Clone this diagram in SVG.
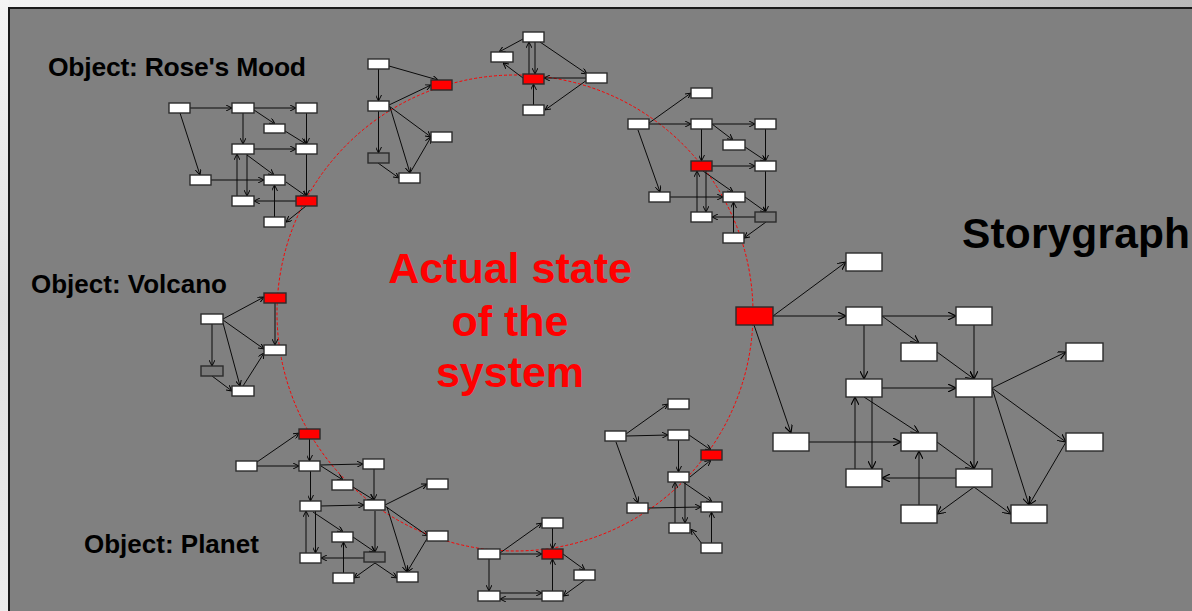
<svg xmlns="http://www.w3.org/2000/svg" width="1192" height="611" viewBox="0 0 1192 611">
  <defs>
    <linearGradient id="frame" x1="0" y1="0" x2="1" y2="0">
      <stop offset="0" stop-color="#f2f2f2"/>
      <stop offset="0.6" stop-color="#d9d9d9"/>
      <stop offset="1" stop-color="#b8b8b8"/>
    </linearGradient>
    <linearGradient id="side" x1="0" y1="0" x2="0" y2="1">
      <stop offset="0" stop-color="#f4f4f4"/>
      <stop offset="0.5" stop-color="#e0e0e0"/>
      <stop offset="1" stop-color="#ececec"/>
    </linearGradient>
    <marker id="ah" viewBox="0 0 10 10" refX="10" refY="5" markerWidth="6" markerHeight="6" markerUnits="userSpaceOnUse" orient="auto">
      <path d="M0,0 L10,5 L0,10" fill="none" stroke="#000" stroke-width="1.6"/>
    </marker>
    <marker id="ahl" viewBox="0 0 10 10" refX="10" refY="5" markerWidth="8" markerHeight="8" markerUnits="userSpaceOnUse" orient="auto">
      <path d="M0,0 L10,5 L0,10" fill="none" stroke="#000" stroke-width="1.4"/>
    </marker>
    <style>
      .n { fill: #ffffff; stroke: #2b2b2b; stroke-width: 1.4; }
      .r { fill: #ff0000; stroke: #2b2b2b; stroke-width: 1.4; }
      .g { fill: #787878; stroke: #2b2b2b; stroke-width: 1.4; }
      .e line { stroke: #0a0a0a; stroke-width: 1; marker-end: url(#ah); }
      .e.big line { marker-end: url(#ahl); }
      .lbl { font-family: "Liberation Sans", Arial, sans-serif; font-weight: bold; fill: #000; }
      .red { font-family: "Liberation Sans", Arial, sans-serif; font-weight: bold; fill: #ff0000; font-size: 43px; text-anchor: middle; }
    </style>
  </defs>

  <!-- frame and panel -->
  <rect x="0" y="0" width="1192" height="611" fill="url(#frame)"/>
  <rect x="0" y="0" width="9" height="611" fill="url(#side)"/>
  <rect x="9" y="8" width="1190" height="610" fill="#808080" stroke="#1a1a1a" stroke-width="2"/>

  <!-- system state ring -->
  <circle id="ring" cx="515" cy="313" r="238" fill="none" stroke="#ff0000" stroke-width="1" stroke-dasharray="3 2"/>

  <!-- labels -->
  <text class="lbl" x="48" y="76" font-size="26.5" textLength="258">Object: Rose's Mood</text>
  <text class="lbl" x="31" y="293" font-size="26">Object: Volcano</text>
  <text class="lbl" x="84" y="553" font-size="26">Object: Planet</text>
  <text class="lbl" x="962" y="248" font-size="42.5" textLength="228">Storygraph</text>
  <text class="red" x="510" y="283">Actual state</text>
  <text class="red" x="510" y="336">of the</text>
  <text class="red" x="510" y="387">system</text>

  <!-- connectors -->
  <g id="connectors">
    <g class="e" id="edges-rose">
      <line x1="190" y1="108" x2="232" y2="108"/>
      <line x1="254" y1="108" x2="296" y2="108"/>
      <line x1="254" y1="110" x2="275" y2="124"/>
      <line x1="285" y1="131" x2="306" y2="144"/>
      <line x1="306.5" y1="113" x2="306.5" y2="144"/>
      <line x1="243" y1="113" x2="243" y2="144"/>
      <line x1="254" y1="149" x2="296" y2="149"/>
      <line x1="180" y1="113" x2="200" y2="175"/>
      <line x1="211" y1="180" x2="264" y2="180"/>
      <line x1="247" y1="155" x2="274" y2="175"/>
      <line x1="237" y1="196" x2="237" y2="154"/>
      <line x1="247" y1="154" x2="247" y2="196"/>
      <line x1="286" y1="182" x2="306" y2="196"/>
      <line x1="306.5" y1="154" x2="306.5" y2="196"/>
      <line x1="296" y1="201" x2="254" y2="201"/>
      <line x1="306" y1="206" x2="286" y2="222"/>
      <line x1="274.5" y1="217" x2="274.5" y2="185"/>
    </g>
    <g class="e" id="edges-a">
      <line x1="389" y1="66" x2="438" y2="80"/>
      <line x1="378.5" y1="69" x2="378.5" y2="101"/>
      <line x1="389" y1="105" x2="431" y2="85"/>
      <line x1="389" y1="106" x2="431" y2="137"/>
      <line x1="390" y1="107" x2="410" y2="173"/>
      <line x1="378.5" y1="111" x2="378.5" y2="153"/>
      <line x1="378" y1="163" x2="399" y2="178"/>
      <line x1="410" y1="173" x2="431" y2="137"/>
    </g>
    <g class="e" id="edges-b">
      <line x1="523" y1="39" x2="499" y2="52"/>
      <line x1="523" y1="78" x2="503" y2="63"/>
      <line x1="535" y1="42" x2="535" y2="74"/>
      <line x1="529" y1="74" x2="529" y2="42"/>
      <line x1="540" y1="42" x2="587" y2="74"/>
      <line x1="586" y1="78" x2="544" y2="78"/>
      <line x1="587" y1="80" x2="545" y2="110"/>
      <line x1="533.5" y1="105" x2="533.5" y2="84"/>
    </g>
    <g class="e" id="edges-c">
      <line x1="649" y1="123" x2="691" y2="93"/>
      <line x1="649" y1="124" x2="691" y2="124"/>
      <line x1="712" y1="124" x2="755" y2="124"/>
      <line x1="712" y1="124" x2="733" y2="140"/>
      <line x1="745" y1="147" x2="766" y2="161"/>
      <line x1="765.5" y1="129" x2="765.5" y2="161"/>
      <line x1="701.5" y1="129" x2="701.5" y2="161"/>
      <line x1="712" y1="166" x2="755" y2="166"/>
      <line x1="638" y1="130" x2="660" y2="192"/>
      <line x1="670" y1="197" x2="723" y2="197"/>
      <line x1="703" y1="171" x2="733" y2="192"/>
      <line x1="706" y1="171" x2="706" y2="212"/>
      <line x1="697" y1="212" x2="697" y2="171"/>
      <line x1="745" y1="197" x2="766" y2="212"/>
      <line x1="765.5" y1="171" x2="765.5" y2="212"/>
      <line x1="755" y1="217" x2="712" y2="217"/>
      <line x1="766" y1="222" x2="744" y2="238"/>
      <line x1="733.5" y1="233" x2="733.5" y2="202"/>
    </g>
    <g class="e" id="edges-volcano">
      <line x1="223" y1="319" x2="264" y2="297"/>
      <line x1="223" y1="320" x2="264" y2="349"/>
      <line x1="212" y1="324" x2="212" y2="366"/>
      <line x1="223" y1="323" x2="240" y2="386"/>
      <line x1="275" y1="303" x2="275" y2="345"/>
      <line x1="212" y1="376" x2="232" y2="391"/>
      <line x1="243" y1="386" x2="264" y2="353"/>
    </g>
    <g class="e" id="edges-planet">
      <line x1="257" y1="462" x2="299" y2="433"/>
      <line x1="257" y1="466" x2="299" y2="466"/>
      <line x1="309.5" y1="439" x2="309.5" y2="461"/>
      <line x1="320" y1="465" x2="363" y2="464"/>
      <line x1="321" y1="466" x2="343" y2="480"/>
      <line x1="353" y1="487" x2="374" y2="500"/>
      <line x1="374" y1="469" x2="374" y2="500"/>
      <line x1="310.5" y1="471" x2="310.5" y2="501"/>
      <line x1="321" y1="506" x2="364" y2="505"/>
      <line x1="385" y1="505" x2="427" y2="484"/>
      <line x1="385" y1="506" x2="428" y2="536"/>
      <line x1="387" y1="507" x2="407" y2="572"/>
      <line x1="428" y1="537" x2="407" y2="572"/>
      <line x1="315.5" y1="511" x2="315.5" y2="553"/>
      <line x1="306" y1="553" x2="306" y2="511"/>
      <line x1="313" y1="512" x2="343" y2="532"/>
      <line x1="353" y1="537" x2="375" y2="552"/>
      <line x1="375" y1="511" x2="375" y2="552"/>
      <line x1="364" y1="558" x2="321" y2="558"/>
      <line x1="375" y1="563" x2="354" y2="578"/>
      <line x1="375" y1="563" x2="397" y2="578"/>
      <line x1="343.5" y1="573" x2="343.5" y2="542"/>
    </g>
    <g class="e" id="edges-d">
      <line x1="500" y1="553" x2="542" y2="523"/>
      <line x1="500" y1="554" x2="542" y2="554"/>
      <line x1="552.5" y1="528" x2="552.5" y2="549"/>
      <line x1="563" y1="554" x2="585" y2="570"/>
      <line x1="585" y1="580" x2="563" y2="596"/>
      <line x1="489" y1="559" x2="489" y2="591"/>
      <line x1="500" y1="593" x2="542" y2="593"/>
      <line x1="542" y1="599" x2="500" y2="599"/>
      <line x1="552.5" y1="591" x2="552.5" y2="559"/>
    </g>
    <g class="e" id="edges-e">
      <line x1="626" y1="434" x2="668" y2="404"/>
      <line x1="626" y1="436" x2="668" y2="435"/>
      <line x1="616" y1="442" x2="638" y2="503"/>
      <line x1="689" y1="435" x2="711" y2="450"/>
      <line x1="678.5" y1="440" x2="678.5" y2="472"/>
      <line x1="690" y1="477" x2="711" y2="460"/>
      <line x1="648" y1="508" x2="701" y2="507"/>
      <line x1="683" y1="482" x2="712" y2="502"/>
      <line x1="685" y1="482" x2="685" y2="523"/>
      <line x1="675" y1="523" x2="675" y2="482"/>
      <line x1="702" y1="544" x2="691" y2="529"/>
      <line x1="711.5" y1="543" x2="711.5" y2="512"/>
    </g>
    <g class="e big" id="edges-storygraph">
      <line x1="773" y1="316" x2="846" y2="262"/>
      <line x1="773" y1="316" x2="846" y2="316"/>
      <line x1="754" y1="325" x2="791" y2="433"/>
      <line x1="882" y1="316" x2="956" y2="316"/>
      <line x1="882" y1="316" x2="919" y2="343"/>
      <line x1="864" y1="325" x2="864" y2="379"/>
      <line x1="974" y1="325" x2="974" y2="379"/>
      <line x1="937" y1="352" x2="974" y2="379"/>
      <line x1="882" y1="388" x2="956" y2="388"/>
      <line x1="992" y1="388" x2="1066" y2="352"/>
      <line x1="992" y1="388" x2="1066" y2="442"/>
      <line x1="992" y1="388" x2="1029" y2="505"/>
      <line x1="1066" y1="442" x2="1029" y2="505"/>
      <line x1="974" y1="397" x2="974" y2="469"/>
      <line x1="864" y1="397" x2="919" y2="433"/>
      <line x1="872" y1="397" x2="872" y2="469"/>
      <line x1="855" y1="469" x2="855" y2="397"/>
      <line x1="809" y1="442" x2="901" y2="442"/>
      <line x1="937" y1="442" x2="974" y2="469"/>
      <line x1="956" y1="478" x2="882" y2="478"/>
      <line x1="974" y1="487" x2="937" y2="514"/>
      <line x1="974" y1="487" x2="1011" y2="514"/>
      <line x1="919" y1="505" x2="919" y2="451"/>
    </g>
  </g>

  <!-- Rose's Mood -->
  <g id="rose">
    <rect class="n" x="169" y="103" width="21" height="10"/>
    <rect class="n" x="232" y="103" width="22" height="10"/>
    <rect class="n" x="296" y="103" width="21" height="10"/>
    <rect class="n" x="264" y="124" width="21" height="9"/>
    <rect class="n" x="232" y="144" width="22" height="10"/>
    <rect class="n" x="296" y="144" width="21" height="10"/>
    <rect class="n" x="190" y="175" width="21" height="10"/>
    <rect class="n" x="264" y="175" width="21" height="10"/>
    <rect class="n" x="232" y="196" width="22" height="10"/>
    <rect class="r" x="296" y="196" width="21" height="10"/>
    <rect class="n" x="264" y="217" width="21" height="10"/>
  </g>

  <!-- top-left object -->
  <g id="obj-a">
    <rect class="n" x="368" y="59" width="21" height="10"/>
    <rect class="r" x="431" y="80" width="21" height="10"/>
    <rect class="n" x="368" y="101" width="21" height="10"/>
    <rect class="n" x="431" y="132" width="21" height="10"/>
    <rect class="g" x="368" y="153" width="21" height="10"/>
    <rect class="n" x="399" y="173" width="21" height="10"/>
  </g>

  <!-- top object -->
  <g id="obj-b">
    <rect class="n" x="523" y="32" width="21" height="10"/>
    <rect class="n" x="491" y="52" width="22" height="10"/>
    <rect class="r" x="523" y="74" width="21" height="10"/>
    <rect class="n" x="586" y="73" width="21" height="10"/>
    <rect class="n" x="523" y="105" width="21" height="10"/>
  </g>

  <!-- top-right object -->
  <g id="obj-c">
    <rect class="n" x="691" y="88" width="21" height="10"/>
    <rect class="n" x="628" y="119" width="21" height="10"/>
    <rect class="n" x="691" y="119" width="21" height="10"/>
    <rect class="n" x="755" y="119" width="21" height="10"/>
    <rect class="n" x="723" y="140" width="22" height="10"/>
    <rect class="r" x="691" y="161" width="21" height="10"/>
    <rect class="n" x="755" y="161" width="21" height="10"/>
    <rect class="n" x="649" y="192" width="21" height="10"/>
    <rect class="n" x="723" y="192" width="22" height="10"/>
    <rect class="n" x="691" y="212" width="21" height="10"/>
    <rect class="g" x="755" y="212" width="21" height="10"/>
    <rect class="n" x="723" y="233" width="21" height="10"/>
  </g>

  <!-- Volcano -->
  <g id="volcano">
    <rect class="r" x="264" y="293" width="22" height="10"/>
    <rect class="n" x="201" y="314" width="22" height="10"/>
    <rect class="n" x="264" y="345" width="22" height="10"/>
    <rect class="g" x="201" y="366" width="22" height="10"/>
    <rect class="n" x="232" y="386" width="22" height="10"/>
  </g>

  <!-- Planet -->
  <g id="planet">
    <rect class="r" x="299" y="429" width="21" height="10"/>
    <rect class="n" x="236" y="461" width="21" height="10"/>
    <rect class="n" x="299" y="461" width="21" height="10"/>
    <rect class="n" x="363" y="459" width="21" height="10"/>
    <rect class="n" x="332" y="480" width="21" height="10"/>
    <rect class="n" x="427" y="479" width="21" height="10"/>
    <rect class="n" x="300" y="501" width="21" height="10"/>
    <rect class="n" x="364" y="500" width="21" height="10"/>
    <rect class="n" x="427" y="531" width="21" height="10"/>
    <rect class="n" x="332" y="532" width="21" height="10"/>
    <rect class="n" x="300" y="553" width="21" height="10"/>
    <rect class="g" x="364" y="552" width="21" height="10"/>
    <rect class="n" x="397" y="572" width="21" height="10"/>
    <rect class="n" x="333" y="573" width="21" height="10"/>
  </g>

  <!-- bottom object -->
  <g id="obj-d">
    <rect class="n" x="542" y="518" width="21" height="10"/>
    <rect class="n" x="478" y="549" width="22" height="10"/>
    <rect class="r" x="542" y="549" width="21" height="10"/>
    <rect class="n" x="574" y="570" width="21" height="10"/>
    <rect class="n" x="478" y="591" width="22" height="10"/>
    <rect class="n" x="542" y="591" width="21" height="10"/>
  </g>

  <!-- bottom-right object -->
  <g id="obj-e">
    <rect class="n" x="668" y="399" width="21" height="10"/>
    <rect class="n" x="605" y="431" width="21" height="10"/>
    <rect class="n" x="668" y="430" width="21" height="10"/>
    <rect class="r" x="701" y="450" width="21" height="10"/>
    <rect class="n" x="668" y="472" width="21" height="10"/>
    <rect class="n" x="627" y="503" width="21" height="10"/>
    <rect class="n" x="701" y="502" width="21" height="10"/>
    <rect class="n" x="669" y="523" width="21" height="10"/>
    <rect class="n" x="701" y="543" width="21" height="10"/>
  </g>

  <!-- Storygraph -->
  <g id="storygraph">
    <rect class="r" x="736" y="307" width="37" height="18"/>
    <rect class="n" x="846" y="253" width="36" height="18"/>
    <rect class="n" x="846" y="307" width="36" height="18"/>
    <rect class="n" x="956" y="307" width="36" height="18"/>
    <rect class="n" x="901" y="343" width="36" height="18"/>
    <rect class="n" x="1066" y="343" width="37" height="18"/>
    <rect class="n" x="846" y="379" width="36" height="18"/>
    <rect class="n" x="956" y="379" width="36" height="18"/>
    <rect class="n" x="773" y="433" width="36" height="18"/>
    <rect class="n" x="901" y="433" width="36" height="18"/>
    <rect class="n" x="1066" y="433" width="37" height="18"/>
    <rect class="n" x="846" y="469" width="36" height="18"/>
    <rect class="n" x="956" y="469" width="36" height="18"/>
    <rect class="n" x="901" y="505" width="36" height="18"/>
    <rect class="n" x="1011" y="505" width="36" height="18"/>
  </g>
</svg>
